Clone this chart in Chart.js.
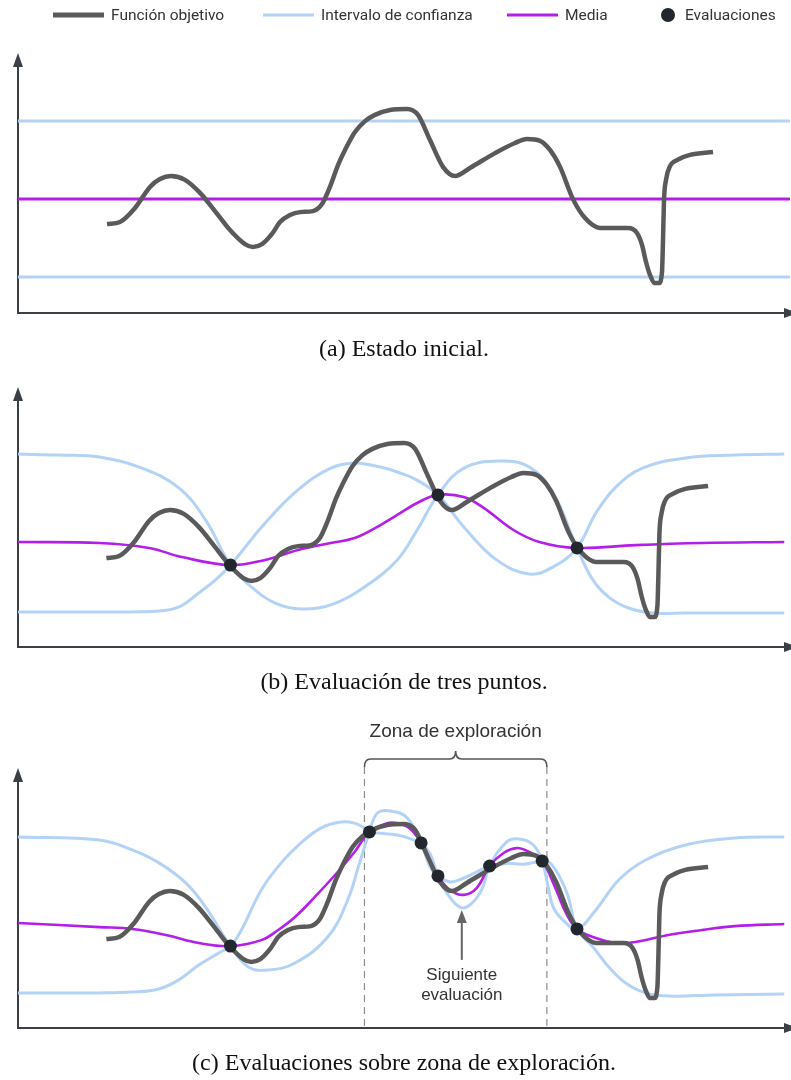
<!DOCTYPE html>
<html lang="es">
<head>
<meta charset="utf-8">
<title>Optimización bayesiana</title>
<script src="https://cdn.jsdelivr.net/npm/chart.js@4.4.1/dist/chart.umd.min.js"></script>
<style>
  html, body { margin: 0; padding: 0; background: #fff; }
  .panel { position: absolute; left: 0; width: 791px; }
</style>
</head>
<body>
<div class="panel" style="top:0"><canvas id="panelA" width="791" height="370"></canvas></div>
<div class="panel" style="top:370px"><canvas id="panelB" width="791" height="330"></canvas></div>
<div class="panel" style="top:700px"><canvas id="panelC" width="791" height="380"></canvas></div>
<script>
// x: 0..100 along the horizontal axis, y: 0..10 up the vertical axis

const captions = ['(a) Estado inicial.', '(b) Evaluación de tres puntos.', '(c) Evaluaciones sobre zona de exploración.'];
const legendLabels = ['Función objetivo', 'Intervalo de confianza', 'Media', 'Evaluaciones'];

// objective function (same in the three panels)
const objectiveX = [11.53, 13.21, 15.16, 17.10, 18.39, 19.82, 21.63, 23.58, 25.52, 27.46, 29.40, 30.44, 31.61, 32.90, 33.94, 35.23, 36.53, 38.21, 39.38, 40.41, 41.45, 42.36, 43.65, 44.95, 46.24, 48.19, 50.39, 51.81, 53.37, 55.05, 56.61, 58.55, 61.79, 64.38, 65.93, 67.62, 68.91, 70.21, 71.89, 73.45, 75.39, 77.33, 79.02, 80.18, 80.83, 81.35, 81.87, 82.51, 83.03, 83.42, 83.55, 83.68, 83.94, 84.46, 85.36, 87.05, 90.03];
const objectiveY = [3.42, 3.50, 4.04, 4.85, 5.15, 5.27, 5.12, 4.62, 3.92, 3.19, 2.65, 2.54, 2.65, 3.04, 3.50, 3.77, 3.88, 3.92, 4.19, 4.85, 5.69, 6.27, 6.96, 7.38, 7.62, 7.81, 7.85, 7.62, 6.65, 5.62, 5.27, 5.58, 6.15, 6.54, 6.69, 6.62, 6.27, 5.62, 4.38, 3.65, 3.27, 3.27, 3.27, 3.08, 2.62, 1.96, 1.46, 1.15, 1.15, 1.58, 2.81, 4.35, 5.12, 5.65, 5.88, 6.08, 6.19];

// (a) prior
const priorX = [0, 100];
const priorUpperY = [7.38, 7.38];
const priorMeanY = [4.38, 4.38];
const priorLowerY = [1.38, 1.38];

// (b) three evaluations
const evalBX = [27.72, 54.79, 72.93];
const evalBY = [3.15, 5.85, 3.81];
const meanBX = [0, 10.62, 17.10, 21.37, 27.72, 32.25, 36.53, 40.80, 43.91, 47.28, 49.48, 52.07, 54.79, 58.16, 60.75, 64.64, 68.01, 72.93, 80.57, 89.25, 100];
const meanBY = [4.04, 4.00, 3.81, 3.46, 3.15, 3.35, 3.73, 4.00, 4.19, 4.69, 5.08, 5.54, 5.85, 5.77, 5.35, 4.50, 4.04, 3.81, 3.92, 4.00, 4.04];
const bandB1X = [0, 5.44, 10.62, 15.80, 20.98, 24.48, 27.72, 30.44, 33.55, 36.92, 40.80, 45.21, 49.48, 52.07, 54.79, 58.16, 62.82, 66.71, 69.82, 72.93, 75.0, 77.07, 79.66, 82.77, 87.05, 100];
const bandB1Y = [7.42, 7.38, 7.31, 6.92, 6.12, 4.88, 3.15, 2.31, 1.69, 1.46, 1.62, 2.31, 3.35, 4.50, 5.85, 6.88, 7.15, 6.92, 5.92, 3.81, 2.58, 1.92, 1.50, 1.31, 1.31, 1.31];
const bandB2X = [0, 10.62, 18.39, 20.98, 23.58, 25.78, 27.72, 32.25, 36.53, 40.80, 43.91, 47.28, 49.48, 52.07, 54.79, 58.16, 62.44, 66.71, 69.82, 72.93, 75.39, 77.98, 81.48, 87.05, 93.52, 100];
const bandB2Y = [1.35, 1.35, 1.38, 1.54, 2.08, 2.58, 3.15, 4.77, 6.04, 6.88, 7.08, 6.92, 6.73, 6.42, 5.85, 4.62, 3.35, 2.81, 3.08, 3.81, 5.15, 6.15, 6.88, 7.27, 7.38, 7.42];

// (c) evaluations in the exploration zone
const evalCX = [27.72, 45.85, 52.59, 54.79, 61.53, 68.39, 72.93];
const evalCY = [3.15, 7.54, 7.12, 5.85, 6.23, 6.42, 3.81];
const meanCX = [0, 10.62, 14.90, 19.30, 23.58, 27.72, 31.74, 33.94, 36.14, 38.73, 41.71, 43.91, 45.85, 48.19, 49.48, 51.04, 52.59, 53.63, 54.79, 56.35, 58.16, 59.84, 61.53, 63.34, 65.03, 66.71, 68.39, 70.21, 71.50, 72.93, 75.39, 77.98, 80.57, 84.84, 89.25, 93.52, 100];
const meanCY = [4.04, 3.88, 3.81, 3.58, 3.27, 3.15, 3.38, 3.77, 4.27, 5.04, 6.00, 6.77, 7.54, 7.88, 7.88, 7.69, 7.12, 6.46, 5.85, 5.31, 5.12, 5.38, 6.23, 6.73, 6.92, 6.77, 6.42, 5.31, 4.42, 3.81, 3.46, 3.27, 3.31, 3.58, 3.77, 3.92, 4.00];
const bandC1X = [0, 10.62, 14.90, 18.39, 21.89, 24.48, 27.72, 30.05, 32.64, 36.14, 40.41, 43.01, 44.56, 45.85, 46.89, 48.58, 50.78, 52.59, 53.76, 54.79, 56.35, 58.16, 59.84, 61.53, 63.73, 65.93, 67.23, 68.39, 69.30, 70.60, 71.76, 72.93, 75.0, 77.07, 79.27, 81.87, 84.84, 90.93, 100];
const bandC1Y = [7.35, 7.23, 6.85, 6.35, 5.58, 4.65, 3.15, 2.35, 2.23, 2.50, 3.50, 4.92, 6.35, 7.54, 8.27, 8.35, 8.08, 7.12, 6.20, 5.85, 5.62, 5.77, 6.00, 6.23, 6.33, 6.30, 6.36, 6.42, 6.38, 5.85, 5.08, 3.81, 3.12, 2.35, 1.73, 1.35, 1.23, 1.27, 1.31];
const bandC2X = [0, 10.62, 14.90, 18.39, 20.98, 23.58, 26.17, 27.72, 29.15, 31.74, 34.33, 36.92, 39.51, 42.10, 43.91, 45.21, 45.85, 46.89, 49.48, 51.68, 52.59, 53.76, 54.79, 55.96, 57.64, 58.94, 60.49, 61.53, 63.73, 65.41, 67.23, 68.39, 69.17, 69.82, 71.11, 72.93, 75.39, 78.37, 81.87, 87.05, 93.52, 100];
const bandC2Y = [1.35, 1.35, 1.38, 1.50, 1.85, 2.42, 2.88, 3.15, 3.77, 5.31, 6.35, 7.12, 7.69, 7.92, 7.88, 7.69, 7.54, 7.50, 7.42, 7.23, 7.12, 6.70, 5.85, 5.19, 4.65, 4.73, 5.31, 6.23, 7.15, 7.27, 7.04, 6.42, 5.42, 4.65, 4.15, 3.81, 4.54, 5.69, 6.46, 7.04, 7.31, 7.35];

// annotations of panel (c)
const zoneRange = [45.2, 69.0];
const zoneLabel = 'Zona de exploración';
const nextEval = { x: 57.9, tip: 4.54, tail: 2.62 };
const nextEvalLabel = ['Siguiente', 'evaluación'];
const nextEvalLabelY = [2.04, 1.27];

const COLORS = {
  objective: '#5a5a5a',
  band: '#b3d3f6',
  mean: '#b41ee8',
  evals: '#22262d',
  axis: '#3b3f46',
  text: '#333333'
};
const SANS = "'Liberation Sans', Arial, sans-serif";
const LEGEND_FONT = "15.5px Roboto, 'Liberation Sans', sans-serif";

function pts(xs, ys) {
  return xs.map((x, i) => ({ x: x, y: ys[i] }));
}

function curve(label, xs, ys, color, width, monotone) {
  return {
    label: label,
    data: pts(xs, ys),
    borderColor: color,
    borderWidth: width,
    pointRadius: 0,
    fill: false,
    tension: 0.4,
    cubicInterpolationMode: monotone ? 'monotone' : 'default',
    borderCapStyle: 'butt',
    borderJoinStyle: 'round'
  };
}

function evals(xs, ys) {
  return {
    label: 'Evaluaciones',
    data: pts(xs, ys),
    showLine: false,
    pointRadius: 6.5,
    pointHoverRadius: 6.5,
    pointBorderWidth: 0,
    pointBackgroundColor: COLORS.evals,
    borderColor: COLORS.evals
  };
}

// axes with arrow heads
const arrowAxes = {
  id: 'arrowAxes',
  beforeDatasetsDraw(chart) {
    const { ctx, scales: { x, y } } = chart;
    const x0 = x.getPixelForValue(0), y0 = y.getPixelForValue(0);
    const yTop = y.getPixelForValue(10), xEnd = chart.width + 7;
    ctx.save();
    ctx.strokeStyle = COLORS.axis;
    ctx.fillStyle = COLORS.axis;
    ctx.lineWidth = 2;
    ctx.beginPath();
    ctx.moveTo(x0, yTop + 10);
    ctx.lineTo(x0, y0);
    ctx.lineTo(xEnd - 10, y0);
    ctx.stroke();
    ctx.beginPath();
    ctx.moveTo(x0, yTop);
    ctx.lineTo(x0 - 5, yTop + 14);
    ctx.lineTo(x0 + 5, yTop + 14);
    ctx.closePath();
    ctx.fill();
    ctx.beginPath();
    ctx.moveTo(xEnd, y0);
    ctx.lineTo(xEnd - 14, y0 - 5);
    ctx.lineTo(xEnd - 14, y0 + 5);
    ctx.closePath();
    ctx.fill();
    ctx.restore();
  }
};

// legend across the top of the figure
const legendX = [53, 263, 507, 661];
const topLegend = {
  id: 'topLegend',
  afterDraw(chart) {
    const ctx = chart.ctx, yc = 15;
    const marks = [
      { color: COLORS.objective, width: 5 },
      { color: COLORS.band, width: 3 },
      { color: COLORS.mean, width: 3 },
      null
    ];
    ctx.save();
    ctx.font = LEGEND_FONT;
    ctx.textBaseline = 'middle';
    legendLabels.forEach((text, i) => {
      const x0 = legendX[i];
      let tx;
      if (marks[i]) {
        ctx.strokeStyle = marks[i].color;
        ctx.lineWidth = marks[i].width;
        ctx.beginPath();
        ctx.moveTo(x0, yc);
        ctx.lineTo(x0 + 51, yc);
        ctx.stroke();
        tx = x0 + 58;
      } else {
        ctx.fillStyle = COLORS.evals;
        ctx.beginPath();
        ctx.arc(x0 + 7, yc, 7, 0, Math.PI * 2);
        ctx.fill();
        tx = x0 + 24;
      }
      ctx.fillStyle = COLORS.text;
      ctx.fillText(text, tx, yc + 1);
    });
    ctx.restore();
  }
};

// brace, dashed limits and "next evaluation" arrow of panel (c)
const zoneNotes = {
  id: 'zoneNotes',
  beforeDatasetsDraw(chart) {
    const { ctx, scales: { x, y } } = chart;
    const xl = x.getPixelForValue(zoneRange[0]);
    const xr = x.getPixelForValue(zoneRange[1]);
    const xm = (xl + xr) / 2;
    const yb = y.getPixelForValue(0);
    const yBrace = y.getPixelForValue(10) - 9;
    ctx.save();
    ctx.strokeStyle = '#8c8c8c';
    ctx.lineWidth = 1.2;
    ctx.setLineDash([7, 5]);
    [xl, xr].forEach(px => {
      ctx.beginPath();
      ctx.moveTo(px, yBrace + 8);
      ctx.lineTo(px, yb);
      ctx.stroke();
    });
    ctx.setLineDash([]);

    ctx.strokeStyle = '#555';
    ctx.lineWidth = 1.6;
    ctx.beginPath();
    ctx.moveTo(xl, yBrace + 8);
    ctx.quadraticCurveTo(xl, yBrace, xl + 6, yBrace);
    ctx.lineTo(xm - 6, yBrace);
    ctx.quadraticCurveTo(xm, yBrace, xm, yBrace - 8);
    ctx.quadraticCurveTo(xm, yBrace, xm + 6, yBrace);
    ctx.lineTo(xr - 6, yBrace);
    ctx.quadraticCurveTo(xr, yBrace, xr, yBrace + 8);
    ctx.stroke();

    ctx.fillStyle = COLORS.text;
    ctx.textAlign = 'center';
    ctx.textBaseline = 'middle';
    ctx.font = '19px ' + SANS;
    ctx.fillText(zoneLabel, xm, yBrace - 27);

    const xa = x.getPixelForValue(nextEval.x);
    const yTip = y.getPixelForValue(nextEval.tip);
    const yTail = y.getPixelForValue(nextEval.tail);
    ctx.strokeStyle = '#666';
    ctx.fillStyle = '#666';
    ctx.lineWidth = 2;
    ctx.beginPath();
    ctx.moveTo(xa, yTail);
    ctx.lineTo(xa, yTip + 10);
    ctx.stroke();
    ctx.beginPath();
    ctx.moveTo(xa, yTip);
    ctx.lineTo(xa - 5, yTip + 13);
    ctx.lineTo(xa + 5, yTip + 13);
    ctx.closePath();
    ctx.fill();

    ctx.fillStyle = COLORS.text;
    ctx.font = '17px ' + SANS;
    nextEvalLabel.forEach((t, i) => ctx.fillText(t, xa, y.getPixelForValue(nextEvalLabelY[i])));
    ctx.restore();
  }
};

function makeChart(id, datasets, caption, padTop, titlePad, extra) {
  return new Chart(document.getElementById(id), {
    type: 'line',
    data: { datasets: datasets },
    options: {
      responsive: false,
      animation: false,
      devicePixelRatio: 1,
      events: [],
      layout: { padding: { top: padTop, left: 18, right: 1, bottom: 0 } },
      scales: {
        x: { type: 'linear', min: 0, max: 100, display: false },
        y: { type: 'linear', min: 0, max: 10, display: false }
      },
      plugins: {
        legend: { display: false },
        tooltip: { enabled: false },
        title: {
          display: true,
          position: 'bottom',
          text: caption,
          color: '#111',
          font: { family: "'Liberation Serif', 'DejaVu Serif', serif", size: 24, weight: 'normal', lineHeight: 1.2 },
          padding: titlePad
        }
      }
    },
    plugins: [arrowAxes].concat(extra || [])
  });
}

makeChart('panelA', [
  curve('Función objetivo', objectiveX, objectiveY, COLORS.objective, 4.5, true),
  curve('Media', priorX, priorMeanY, COLORS.mean, 3),
  curve('Intervalo de confianza', priorX, priorUpperY, COLORS.band, 3),
  curve('Intervalo de confianza', priorX, priorLowerY, COLORS.band, 3)
], captions[0], 53, { top: 22.6, bottom: 5.6 }, [topLegend]);

makeChart('panelB', [
  evals(evalBX, evalBY),
  curve('Función objetivo', objectiveX, objectiveY, COLORS.objective, 4.5, true),
  curve('Media', meanBX, meanBY, COLORS.mean, 2.6),
  curve('Intervalo de confianza', bandB1X, bandB1Y, COLORS.band, 3),
  curve('Intervalo de confianza', bandB2X, bandB2Y, COLORS.band, 3)
], captions[1], 17, { top: 21.6, bottom: 2.6 });

makeChart('panelC', [
  evals(evalCX, evalCY),
  curve('Función objetivo', objectiveX, objectiveY, COLORS.objective, 4.5, true),
  curve('Media', meanCX, meanCY, COLORS.mean, 2.6),
  curve('Intervalo de confianza', bandC1X, bandC1Y, COLORS.band, 3),
  curve('Intervalo de confianza', bandC2X, bandC2Y, COLORS.band, 3)
], captions[2], 68, { top: 21.6, bottom: 1.6 }, [zoneNotes]);
</script>
</body>
</html>
